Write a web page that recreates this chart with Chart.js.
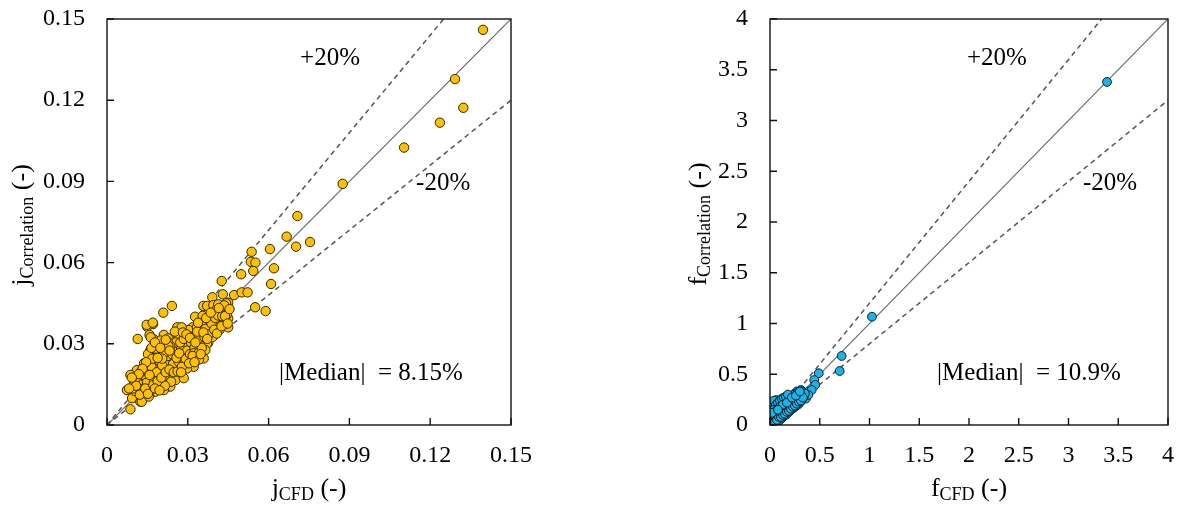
<!DOCTYPE html>
<html><head><meta charset="utf-8">
<script src="https://cdn.jsdelivr.net/npm/chart.js@4.4.1/dist/chart.umd.min.js"></script>
<style>
html,body{margin:0;padding:0;background:#fff;}
#wrap{position:relative;width:1180px;height:508px;overflow:hidden;}
.c{position:absolute;top:0;width:590px;height:508px;}
</style></head>
<body><div id="wrap">
<div class="c" style="left:0"><canvas id="c1" width="590" height="508"></canvas></div>
<div class="c" style="left:590px"><canvas id="c2" width="590" height="508"></canvas></div>
</div>
<script>
// ---------- Left chart data: j ----------
const jTicks = [0, 0.03, 0.06, 0.09, 0.12, 0.15];
const jTickLabels = ['0', '0.03', '0.06', '0.09', '0.12', '0.15'];
const jCFD = [0.1396,0.1292,0.1323,0.1236,0.1103,0.0875,0.0707,0.0667,0.0702,0.0754,0.0605,0.0537,0.0534,0.0551,0.0543,0.062,0.0498,0.0609,0.0472,0.05,0.0522,0.0426,0.043,0.0391,0.045,0.055,0.0589,0.0241,0.0209,0.0358,0.0372,0.0395,0.0413,0.0442,0.0422,0.0447,0.045,0.042,0.0389,0.0327,0.0355,0.045,0.0417,0.0382,0.0318,0.0352,0.0286,0.0314,0.0345,0.0382,0.0364,0.0376,0.0271,0.0246,0.0252,0.0283,0.0314,
0.0149,0.0171,0.0114,0.0158,0.0173,0.0211,0.0228,0.0192,0.0161,0.0266,0.0303,0.0334,0.0359,0.0384,0.0396,0.0291,0.0322,0.0353,0.0371,0.0223,0.0254,0.0285,0.0316,0.034,0.0192,0.0158,0.0179,0.0216,0.0248,0.0278,0.0309,0.0334,0.0359,0.0322,0.0297,0.0266,0.0241,0.0211,0.0136,0.0111,0.0149,0.0173,0.0087,0.0099,0.0124,0.0155,0.0186,0.0223,0.0254,0.0285,0.0074,0.0105,0.0136,0.0167,0.0198,0.0235,0.0118,0.0149,0.0179,0.0211,0.0093,0.0124,0.0155,0.0087,0.0147,0.017,0.0162,0.0365,0.0261,0.0277,0.0129,
0.0195,0.0205,0.0235,0.026,0.027,0.0295,0.0305,0.033,0.0345,0.037,0.0395,0.0405,0.043,0.0435,0.0135,0.0145,0.0165,0.0175,0.0185,0.0195,0.0205,0.0215,0.0115,0.0105,0.0128,0.0162,0.0185,0.0225,0.0245,0.0265,0.0275,0.0288,0.0302,0.0318,0.0338,0.0348,0.0362,0.0378,0.0392,0.0405,0.0418,0.0435,0.0255,0.0235,0.0225,0.0238,0.0215,
0.0125,0.0138,0.0152,0.0168,0.0182,0.0198,0.0212,0.0228,0.0242,0.0258,0.0272,0.0285,0.0298,0.0312,0.0325,0.0335,0.0352,0.0365,0.0378,0.0388,0.0402,0.0412,0.0428,0.0442,0.0445,0.0095,0.0102,0.0112,0.0122,0.0142,0.0158,0.0172,0.0188,0.0202,0.0218,0.0232,0.0248,0.0262,0.0278,0.0292,0.0308,0.0322,0.0342,0.0352,
0.0205,0.0218,0.0232,0.0252,0.0268,0.0282,0.0295,0.0308,0.0318,0.0328,0.0338,0.0342,0.0358,0.0368,0.0372,0.0385,0.0398,0.0408,0.0415,0.0425,0.0438,0.0448,0.0455,0.0165,0.0178,0.0188,0.0198,0.0145,0.0132,0.0118,0.0108,0.0082,0.0092,0.0152,0.0178,0.0195,0.0275,0.0305,0.0325,0.0348];
const jCorr = [0.146,0.1278,0.1172,0.1117,0.1025,0.0891,0.0772,0.0696,0.0659,0.0676,0.065,0.064,0.0603,0.060,0.0569,0.0579,0.0557,0.0521,0.048,0.049,0.049,0.0532,0.0483,0.0472,0.0452,0.0435,0.0421,0.044,0.0415,0.044,0.044,0.0443,0.0446,0.045,0.0419,0.0419,0.0394,0.0394,0.0394,0.04,0.0403,0.0361,0.037,0.0357,0.0361,0.0363,0.0333,0.0333,0.0333,0.0351,0.0308,0.0304,0.0326,0.032,0.0296,0.0296,0.0289,
0.0363,0.0373,0.0318,0.0333,0.0317,0.0333,0.032,0.0296,0.0277,0.0329,0.0351,0.0361,0.0354,0.0345,0.0363,0.0296,0.0308,0.0314,0.0299,0.0283,0.0271,0.0271,0.0277,0.0283,0.0259,0.024,0.0222,0.0234,0.024,0.0246,0.0246,0.0252,0.0246,0.0215,0.0209,0.0215,0.0203,0.0203,0.0215,0.0203,0.0191,0.0197,0.0185,0.0166,0.0173,0.0166,0.0173,0.0173,0.0166,0.0173,0.0129,0.0142,0.0148,0.0142,0.0148,0.0142,0.0117,0.0123,0.0123,0.0129,0.0099,0.0086,0.0105,0.0058,0.037,0.0378,0.0324,0.0277,0.0361,0.0361,0.0086,
0.0235,0.0275,0.0262,0.0283,0.025,0.0318,0.026,0.0335,0.0295,0.0385,0.0405,0.0375,0.0415,0.0385,0.0185,0.0155,0.0215,0.0165,0.0195,0.0155,0.022,0.0185,0.0155,0.0125,0.0132,0.0128,0.0135,0.0255,0.0225,0.0235,0.0285,0.0228,0.0292,0.0322,0.0318,0.0352,0.0325,0.0372,0.0325,0.0425,0.0352,0.0442,0.0305,0.0292,0.0308,0.016,0.0145,
0.0195,0.0228,0.0262,0.0245,0.0282,0.0312,0.0265,0.0292,0.0262,0.0248,0.0305,0.0318,0.0275,0.0305,0.0285,0.0345,0.0375,0.0355,0.0335,0.0375,0.0395,0.0405,0.0402,0.0375,0.0408,0.0135,0.0158,0.0178,0.0112,0.0135,0.0185,0.0148,0.0162,0.0175,0.0195,0.0205,0.0195,0.0198,0.0215,0.0245,0.0262,0.0265,0.0268,0.0285,
0.0245,0.0315,0.0275,0.0345,0.0265,0.0342,0.0335,0.0322,0.0255,0.0305,0.0378,0.0242,0.0342,0.0395,0.0318,0.0415,0.0352,0.0338,0.0432,0.0365,0.0402,0.0375,0.0428,0.0285,0.0305,0.0248,0.0285,0.0232,0.0208,0.0188,0.0145,0.0135,0.0175,0.0115,0.0135,0.0128,0.0195,0.0228,0.0232,0.0262];
const jIdentity = [[0, 0], [0.15, 0.15]];
const jPlus20 = [[0, 0], [0.125, 0.15]];
const jMinus20 = [[0, 0], [0.15, 0.12]];

// ---------- Right chart data: f ----------
const fTicks = [0, 0.5, 1, 1.5, 2, 2.5, 3, 3.5, 4];
const fTickLabels = ['0', '0.5', '1', '1.5', '2', '2.5', '3', '3.5', '4'];
const fCFD = [3.387,1.025,0.72,0.70,0.49,0.445,0.455,0.385,0.36,0.31,0.285,0.265,0.20,0.176,0.10,0.05,0.033,0.083,0.07,0.065,0.083,0.05,0.067,0.033,0.419,0.385,
0.02,0.03,0.04,0.05,0.06,0.07,0.08,0.09,0.1,0.11,0.12,0.13,0.14,0.15,0.16,0.17,0.18,0.19,0.2,0.21,0.22,0.23,0.24,0.25,0.26,0.27,0.28,0.29,0.3,0.31,0.32,0.33,
0.02,0.025,0.035,0.045,0.06,0.075,0.09,0.1,0.12,0.14,0.155,0.17,0.19,0.21,0.23,0.25,0.27,0.015,0.01,0.045,0.055,0.085,0.115,0.135,0.165,0.185,0.205,0.225,0.245,
0.06,0.08,0.1,0.12,0.14,0.16,0.18,0.2,0.22,0.24,0.26,0.28,0.3,0.32,0.34,0.35,
0.04,0.05,0.07,0.09,0.11,0.13,0.15,0.17,0.19,0.21,0.23,0.25,0.27,0.29,0.31,0.03,0.05,0.07,0.09,0.11,0.13,0.15,0.17,0.19,0.21,0.23,0.25,0.27,0.29,0.31,0.33,0.12,0.16,0.2,0.24,0.28,
0.02,0.03,0.04,0.06,0.08,0.1,0.12,0.14,0.16,0.18,0.04,0.06,0.1,0.13,0.17,0.22,0.26,0.3,0.02,0.08];
const fCorr = [3.38,1.067,0.68,0.532,0.51,0.443,0.395,0.33,0.26,0.345,0.296,0.246,0.19,0.197,0.148,0.23,0.1,0.066,0.131,0.246,0.197,0.148,0.082,0.049,0.345,0.296,
0.03,0.06,0.02,0.05,0.04,0.07,0.1,0.06,0.09,0.12,0.1,0.14,0.12,0.16,0.13,0.17,0.15,0.21,0.17,0.22,0.19,0.24,0.2,0.26,0.22,0.28,0.24,0.27,0.3,0.26,0.33,0.3,
0.09,0.13,0.17,0.2,0.17,0.21,0.18,0.21,0.19,0.22,0.2,0.24,0.25,0.27,0.29,0.31,0.33,0.015,0.05,0.09,0.12,0.14,0.16,0.18,0.19,0.22,0.24,0.26,0.28,
0.01,0.03,0.05,0.07,0.09,0.1,0.12,0.14,0.16,0.17,0.19,0.2,0.22,0.25,0.28,0.31,
0.11,0.17,0.16,0.12,0.14,0.12,0.14,0.15,0.18,0.2,0.21,0.23,0.25,0.25,0.29,0.02,0.03,0.05,0.08,0.08,0.1,0.11,0.13,0.14,0.16,0.18,0.19,0.21,0.23,0.24,0.27,0.23,0.25,0.27,0.3,0.32,
0.18,0.21,0.24,0.2,0.22,0.24,0.26,0.27,0.28,0.3,0.15,0.14,0.18,0.2,0.22,0.27,0.29,0.33,0.12,0.15];
const fIdentity = [[0, 0], [4, 4]];
const fPlus20 = [[0, 0], [3.3333, 4]];
const fMinus20 = [[0, 0], [4, 3.2]];

// ---------- helpers ----------
const SERIF = "'Liberation Serif', 'Times New Roman', serif";
Chart.defaults.font.family = SERIF;
Chart.defaults.font.size = 24;
Chart.defaults.color = '#000';

const toPts = (xs, ys) => xs.map((v, i) => ({x: v, y: ys[i]}));
const pairPts = arr => arr.map(p => ({x: p[0], y: p[1]}));

function rich(ctx, parts, cx, by) {
  let w = 0;
  parts.forEach(p => { ctx.font = p.font; p.w = ctx.measureText(p.t).width; w += p.w; });
  let xx = cx - w / 2;
  parts.forEach(p => { ctx.font = p.font; ctx.fillText(p.t, xx, by + (p.dy || 0)); xx += p.w; });
}

const framePlugin = {
  id: 'frame',
  afterDatasetsDraw(chart, args, o) {
    const {ctx, chartArea: a, scales: {x, y}} = chart;
    ctx.save();
    ctx.strokeStyle = '#111';
    ctx.lineWidth = 1.4;
    ctx.beginPath();
    x.ticks.forEach(t => { const p = x.getPixelForValue(t.value); ctx.moveTo(p, a.bottom); ctx.lineTo(p, a.bottom - 7); });
    y.ticks.forEach(t => { const p = y.getPixelForValue(t.value); ctx.moveTo(a.left, p); ctx.lineTo(a.left + 7, p); });
    ctx.stroke();
    ctx.strokeRect(a.left, a.top, a.right - a.left, a.bottom - a.top);
    ctx.restore();
  },
  afterDraw(chart, args, o) {
    const {ctx, chartArea: a, scales: {x, y}} = chart;
    ctx.save();
    ctx.fillStyle = '#000';
    ctx.textBaseline = 'alphabetic';
    const main = '26px ' + SERIF, sub = '18px ' + SERIF;
    rich(ctx, [{t: o.xMain, font: main}, {t: o.xSub, font: sub, dy: 4}, {t: ' (-)', font: main}], (a.left + a.right) / 2, o.xTitleBase);
    ctx.save();
    ctx.translate(o.yTitleBase, o.yTitleMid);
    ctx.rotate(-Math.PI / 2);
    rich(ctx, [{t: o.yMain, font: main}, {t: o.ySub, font: sub, dy: 4}, {t: ' (-)', font: main}], 0, 0);
    ctx.restore();
    ctx.font = '25px ' + SERIF;
    ctx.textAlign = 'center';
    ctx.textBaseline = 'middle';
    o.notes.forEach(n => ctx.fillText(n.text, x.getPixelForValue(n.x), y.getPixelForValue(n.y)));
    ctx.restore();
  }
};

function makeChart(id, cfg) {
  const lineStyle = {showLine: true, pointRadius: 0, fill: false, borderColor: '#555', borderWidth: 1.5, borderDash: [5, 4]};
  return new Chart(document.getElementById(id), {
    type: 'scatter',
    data: {
      datasets: [
        {data: toPts(cfg.xs, cfg.ys), pointRadius: cfg.r, pointBackgroundColor: cfg.fill, pointBorderColor: cfg.edge, pointBorderWidth: 1, order: 0},
        Object.assign({data: pairPts(cfg.id), order: 1}, lineStyle, {borderDash: [], borderColor: '#6a6a6a', borderWidth: 1.2}),
        Object.assign({data: pairPts(cfg.plus), order: 1}, lineStyle),
        Object.assign({data: pairPts(cfg.minus), order: 1}, lineStyle)
      ]
    },
    options: {
      responsive: false,
      animation: false,
      devicePixelRatio: 1,
      layout: {padding: {top: 19, right: cfg.padRight, left: 0, bottom: 0}},
      plugins: {
        legend: {display: false},
        tooltip: {enabled: false},
        frame: cfg.frame
      },
      scales: {
        x: {
          type: 'linear', min: 0, max: cfg.max,
          grid: {display: false, drawTicks: false},
          border: {display: false},
          afterBuildTicks: s => { s.ticks = cfg.ticks.map(v => ({value: v})); },
          afterFit: s => { s.height = 83; s.paddingLeft = 0; s.paddingRight = 0; },
          ticks: {padding: 16, maxRotation: 0, autoSkip: false, callback: (v, i) => cfg.labels[i]}
        },
        y: {
          type: 'linear', min: 0, max: cfg.max,
          grid: {display: false, drawTicks: false},
          border: {display: false},
          afterBuildTicks: s => { s.ticks = cfg.ticks.map(v => ({value: v})); },
          afterFit: s => { s.width = cfg.yWidth; s.paddingTop = 0; s.paddingBottom = 0; },
          ticks: {padding: 22, autoSkip: false, callback: (v, i) => cfg.labels[i]}
        }
      }
    },
    plugins: [framePlugin]
  });
}

makeChart('c1', {
  xs: jCFD, ys: jCorr, id: jIdentity, plus: jPlus20, minus: jMinus20,
  ticks: jTicks, labels: jTickLabels, max: 0.15,
  fill: '#FFC000', edge: '#2e2600', r: 4.7,
  yWidth: 107, padRight: 79,
  frame: {
    xMain: 'j', xSub: 'CFD', yMain: 'j', ySub: 'Correlation',
    xTitleBase: 496, yTitleBase: 29, yTitleMid: 225,
    notes: [
      {text: '+20%', x: 0.0828, y: 0.1356},
      {text: '-20%', x: 0.1248, y: 0.0894},
      {text: '|Median|  = 8.15%', x: 0.098, y: 0.0192}
    ]
  }
});

makeChart('c2', {
  xs: fCFD, ys: fCorr, id: fIdentity, plus: fPlus20, minus: fMinus20,
  ticks: fTicks, labels: fTickLabels, max: 4,
  fill: '#1CB4E8', edge: '#0d1a22', r: 4.4,
  yWidth: 180, padRight: 12,
  frame: {
    xMain: 'f', xSub: 'CFD', yMain: 'f', ySub: 'Correlation',
    xTitleBase: 496, yTitleBase: 116, yTitleMid: 224,
    notes: [
      {text: '+20%', x: 2.28, y: 3.616},
      {text: '-20%', x: 3.417, y: 2.384},
      {text: '|Median|  = 10.9%', x: 2.603, y: 0.512}
    ]
  }
});
</script>
</body></html>
